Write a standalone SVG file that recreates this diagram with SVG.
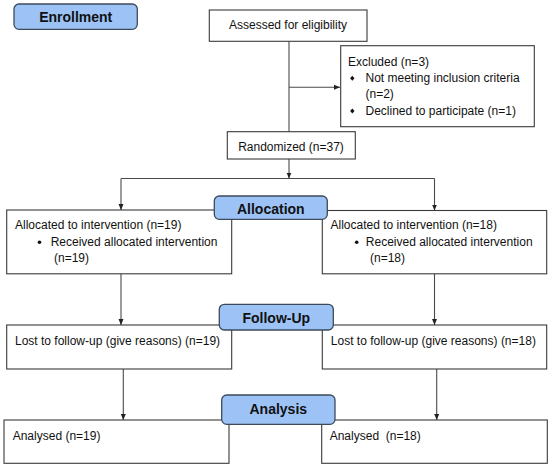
<svg xmlns="http://www.w3.org/2000/svg" width="550" height="467" viewBox="0 0 550 467">
<defs>
<style>
.box{fill:#fff;stroke:#3a3a3a;stroke-width:1.1}
.badge{fill:#9dc3f6;stroke:#3d4a5c;stroke-width:1.3}
.t{font-family:"Liberation Sans",Arial,sans-serif;font-size:12px;fill:#111;white-space:pre}
.b{font-family:"Liberation Sans",Arial,sans-serif;font-size:14px;font-weight:bold;fill:#111;text-anchor:middle}
.c{text-anchor:middle}
.ln{fill:none;stroke:#4a4a4a;stroke-width:1.1}
.bul{fill:#111}
</style>
<marker id="ah" markerWidth="6" markerHeight="6" viewBox="0 0 6 6" refX="6" refY="3" orient="auto" markerUnits="userSpaceOnUse">
<path d="M0,0.5 L6,3 L0,5.5 Z" fill="#222"/>
</marker>
</defs>
<rect width="550" height="467" fill="#fff"/>

<g id="connectors">
<path class="ln" d="M289,41.3 V131.7"/>
<path class="ln" d="M289,87.3 H340" marker-end="url(#ah)"/>
<path class="ln" d="M289,159 V178.5" marker-end="url(#ah)"/>
<path class="ln" d="M121,178.5 H434.5"/>
<path class="ln" d="M121,178.5 V210" marker-end="url(#ah)"/>
<path class="ln" d="M434.5,178.5 V210.5" marker-end="url(#ah)"/>
<path class="ln" d="M121,274 V325" marker-end="url(#ah)"/>
<path class="ln" d="M434.5,274 V325" marker-end="url(#ah)"/>
<path class="ln" d="M123.3,369 V420" marker-end="url(#ah)"/>
<path class="ln" d="M436.7,369 V420" marker-end="url(#ah)"/>
</g>

<g id="assessed">
<rect class="box" x="209.3" y="10" width="157.7" height="31.3"/>
<text class="t c" x="288" y="29">Assessed for eligibility</text>
</g>

<g id="excluded">
<rect class="box" x="340.7" y="45.7" width="193.6" height="81"/>
<text class="t" x="348" y="65.7">Excluded (n=3)</text>
<polygon class="bul" points="352.3,75.8 354.5,78.3 352.3,80.8 350.1,78.3"/>
<text class="t" x="365.5" y="82.3">Not meeting inclusion criteria</text>
<text class="t" x="365.5" y="98.3">(n=2)</text>
<polygon class="bul" points="352.3,108.5 354.5,111 352.3,113.5 350.1,111"/>
<text class="t" x="365.5" y="115">Declined to participate (n=1)</text>
</g>

<g id="randomized">
<rect class="box" x="227.3" y="131.7" width="128" height="27.3"/>
<text class="t c" x="291" y="150.7">Randomized (n=37)</text>
</g>

<g id="alloc-left">
<rect class="box" x="6.7" y="210" width="225" height="63.8"/>
<text class="t" x="15" y="229">Allocated to intervention (n=19)</text>
<circle class="bul" cx="39.5" cy="242.3" r="1.8"/>
<text class="t" x="50.7" y="246.3">Received allocated intervention</text>
<text class="t" x="54" y="262.3">(n=19)</text>
</g>

<g id="alloc-right">
<rect class="box" x="322.3" y="210.5" width="224.4" height="63.3"/>
<text class="t" x="330.5" y="229">Allocated to intervention (n=18)</text>
<circle class="bul" cx="356.7" cy="242.3" r="1.8"/>
<text class="t" x="365.8" y="246.3">Received allocated intervention</text>
<text class="t" x="370" y="262.3">(n=18)</text>
</g>

<g id="follow-left">
<rect class="box" x="6.7" y="325" width="225" height="44"/>
<text class="t" x="15" y="344.7">Lost to follow-up (give reasons) (n=19)</text>
</g>

<g id="follow-right">
<rect class="box" x="322.3" y="325" width="224.4" height="44"/>
<text class="t" x="330.8" y="344.7">Lost to follow-up (give reasons) (n=18)</text>
</g>

<g id="analysed-left">
<rect class="box" x="4" y="420" width="225" height="43.3"/>
<text class="t" x="12.7" y="440">Analysed (n=19)</text>
</g>

<g id="analysed-right">
<rect class="box" x="321.7" y="420" width="225.6" height="43.3"/>
<text class="t" x="329.7" y="440">Analysed  (n=18)</text>
</g>

<g id="enrollment">
<rect class="badge" x="14" y="4" width="123.3" height="25.3" rx="5"/>
<text class="b" x="75.7" y="22">Enrollment</text>
</g>

<g id="allocation">
<rect class="badge" x="214.3" y="196" width="113" height="23.3" rx="5"/>
<text class="b" x="270.8" y="213.5">Allocation</text>
</g>

<g id="followup">
<rect class="badge" x="219.3" y="304.3" width="114" height="25.7" rx="5"/>
<text class="b" x="276.3" y="322.5">Follow-Up</text>
</g>

<g id="analysis">
<rect class="badge" x="221.7" y="395" width="113.3" height="29.3" rx="5"/>
<text class="b" x="278.3" y="414">Analysis</text>
</g>
</svg>
